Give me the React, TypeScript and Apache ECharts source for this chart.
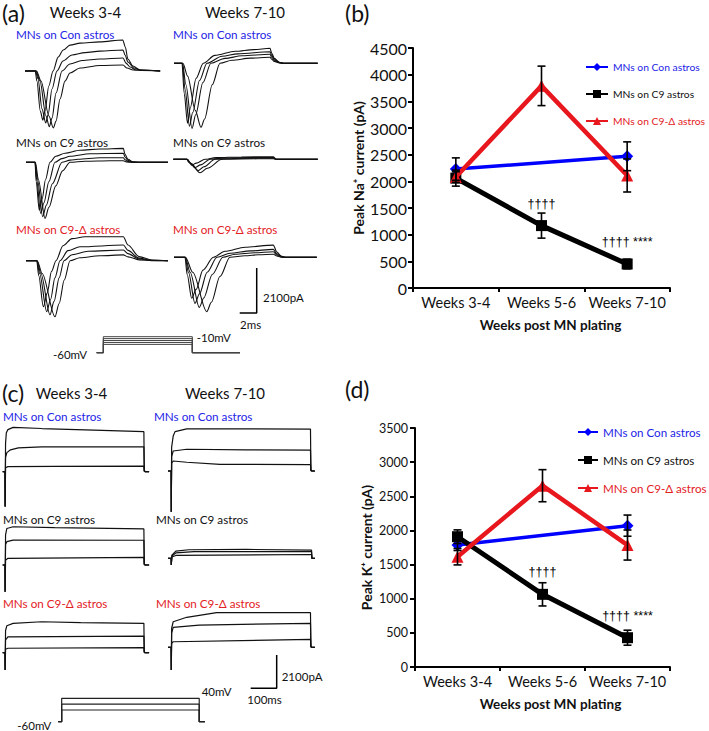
import React, { useEffect, useRef } from 'react';
import * as echarts from 'echarts';

const FONT = 'Lato, "Open Sans", "DejaVu Sans", sans-serif';
const BLUE = '#0000ff';
const BLUE_TXT = '#2424e6';
const RED = '#e8161d';
const RED_TXT = '#e3211f';
const INK = '#111111';

// ---------- panel (b)/(d) data ----------
const weekCategories = ['Weeks 3-4', 'Weeks 5-6', 'Weeks 7-10'];
const groupNames = ['MNs on Con astros', 'MNs on C9 astros', 'MNs on C9-Δ astros'];
const sigLabels = ['', '††††', '†††† ****'];

const naConMean = [2230, null, 2470];
const naConErr = [210, null, 270];
const naC9Mean = [2060, 1170, 450];
const naC9Err = [150, 235, 90];
const naDelMean = [2080, 3790, 2110];
const naDelErr = [100, 370, 310];

const kConMean = [1786, null, 2070];
const kConErr = [80, null, 155];
const kC9Mean = [1908, 1064, 429];
const kC9Err = [100, 170, 110];
const kDelMean = [1615, 2655, 1786];
const kDelErr = [120, 235, 220];

// ---------- panel (a) Na+ current traces: [time ms, current pA] ----------
const naCon34 = [
  [[0,0],[1.2,0],[1.4,-470],[1.8,-1870],[2.1,-2290],[2.35,-1870],[2.8,-700],[3.3,0],[3.9,650],[4.5,980],[5.3,1210],[6.5,1300],[8.8,1360],[11.5,1450],[11.8,1120],[12.1,560],[12.7,230],[13.5,50],[15.9,0]],
  [[0,0],[1.24,0],[1.53,-370],[2.0,-1770],[2.44,-2430],[2.71,-2050],[3.18,-840],[3.76,0],[4.47,470],[5.53,750],[7.06,860],[8.82,930],[11.53,980],[11.76,750],[12.12,420],[12.82,140],[13.76,20],[15.9,0]],
  [[0,0],[1.29,0],[1.76,-470],[2.47,-2100],[2.86,-2600],[3.18,-2200],[3.65,-1030],[4.35,0],[5.29,330],[6.71,490],[8.82,560],[11.53,610],[11.88,370],[12.35,190],[13.06,50],[15.9,0]],
  [[0,0],[1.35,0],[1.88,-470],[2.82,-2100],[3.33,-2660],[3.65,-2340],[4.12,-1310],[4.71,-470],[5.29,-90],[6.47,140],[8.82,260],[11.53,280],[12.0,140],[12.71,50],[15.9,0]],
];
const naCon710 = [
  [[0,0],[0.94,0],[1.2,-1400],[1.59,-2800],[1.9,-2100],[2.6,-700],[3.45,0],[4.8,370],[7.2,560],[9.4,640],[11.3,700],[11.5,470],[11.8,230],[12.4,50],[12.9,0],[16.9,0]],
  [[0,0],[0.97,0],[1.3,-1200],[1.82,-2940],[2.2,-2300],[3.0,-800],[3.88,0],[5.65,330],[7.5,440],[11.3,540],[11.5,370],[11.8,190],[12.4,40],[12.9,0],[16.9,0]],
  [[0,0],[1.0,0],[1.4,-1000],[2.12,-3040],[2.55,-2400],[3.4,-900],[4.35,0],[6.0,230],[8.0,350],[11.3,420],[11.5,280],[11.8,140],[12.4,30],[12.9,0],[16.9,0]],
  [[0,0],[1.05,0],[1.6,-600],[2.5,-2200],[3.18,-2990],[3.6,-2600],[4.5,-1000],[5.41,0],[6.82,140],[9.0,240],[11.3,280],[11.5,190],[11.8,90],[12.4,20],[12.9,0],[16.9,0]],
];
const naC934 = [
  [[0,0],[1.06,0],[1.2,-900],[1.56,-2240],[1.9,-1700],[2.3,-800],[2.82,0],[3.5,280],[4.59,420],[6.35,560],[8.7,620],[11.45,650],[11.65,370],[12.0,140],[12.6,20],[13.4,0],[16.7,0]],
  [[0,0],[1.06,0],[1.25,-800],[1.73,-2380],[2.1,-1900],[2.7,-900],[3.41,0],[4.2,170],[5.18,280],[7.53,400],[11.45,420],[11.65,250],[12.0,90],[12.6,10],[13.4,0],[16.7,0]],
  [[0,0],[1.08,0],[1.35,-800],[1.96,-2540],[2.4,-2000],[3.1,-1000],[4.24,0],[5.2,100],[6.12,140],[8.71,210],[11.45,215],[11.65,120],[12.0,40],[12.6,0],[16.7,0]],
  [[0,0],[1.1,0],[1.45,-800],[2.24,-2620],[2.7,-2100],[3.5,-1100],[4.3,-400],[5.18,0],[6.94,50],[9.88,75],[11.45,75],[11.8,20],[12.4,0],[16.7,0]],
];
const naC9710 = [
  [[0,0],[1.58,0],[1.8,-120],[2.16,-270],[2.7,-180],[3.73,0],[5.0,80],[8.0,110],[11.76,120],[12.1,0],[17,0]],
  [[0,0],[1.6,0],[1.9,-150],[2.55,-390],[3.2,-260],[4.32,0],[6.0,60],[9.0,80],[11.76,85],[12.1,0],[17,0]],
  [[0,0],[1.62,0],[2.0,-180],[2.94,-530],[3.6,-350],[4.9,0],[7.0,40],[11.76,55],[12.1,0],[17,0]],
  [[0,0],[1.65,0],[2.1,-200],[3.14,-630],[4.0,-420],[5.73,0],[8.0,20],[11.76,25],[12.1,0],[17,0]],
];
const naDel34 = [
  [[0,0],[1.26,0],[1.5,-700],[2.04,-2150],[2.5,-1500],[3.0,-500],[3.53,0],[4.35,700],[5.41,1030],[6.94,1120],[11.45,1120],[12.0,730],[13.3,190],[14.8,30],[16.7,0]],
  [[0,0],[1.28,0],[1.6,-600],[2.44,-2380],[2.9,-1800],[3.4,-800],[4.0,0],[4.94,470],[6.35,650],[11.45,730],[12.0,480],[13.3,120],[14.8,20],[16.7,0]],
  [[0,0],[1.3,0],[1.75,-600],[2.82,-2520],[3.3,-1900],[3.9,-800],[4.47,0],[5.41,280],[7.3,440],[11.45,500],[12.0,330],[13.3,80],[14.8,10],[16.7,0]],
  [[0,0],[1.32,0],[1.9,-600],[3.41,-2620],[3.9,-2000],[4.5,-900],[5.18,0],[6.35,140],[8.7,230],[11.45,270],[12.0,180],[13.3,40],[14.8,0],[16.7,0]],
];
const naDel710 = [
  [[0,0],[1.29,0],[1.55,-800],[2.08,-1910],[2.6,-1500],[3.4,-600],[4.63,0],[6.0,280],[8.35,470],[11.68,570],[12.1,250],[12.6,60],[13.1,0],[16.8,0]],
  [[0,0],[1.31,0],[1.7,-700],[2.47,-2150],[3.0,-1700],[3.9,-700],[5.06,0],[6.6,190],[9.0,300],[11.68,370],[12.1,160],[12.6,40],[13.1,0],[16.8,0]],
  [[0,0],[1.33,0],[1.9,-700],[2.98,-2340],[3.5,-1900],[4.5,-800],[5.76,0],[7.2,140],[9.5,210],[11.68,260],[12.1,110],[12.6,20],[13.1,0],[16.8,0]],
  [[0,0],[1.35,0],[2.2,-700],[3.85,-2540],[4.4,-2100],[5.4,-900],[6.59,0],[8.35,70],[10.0,120],[11.68,140],[12.1,60],[12.6,10],[13.1,0],[16.8,0]],
];
const naScaleBar = [[9.73, -500], [9.73, -2600], [7.73, -2600]]; // 2 ms x 2100 pA
const naStepLevels = [-34, -28, -22, -16, -10]; // mV
const naStepTimes = [0, 0.78, 11.25, 16.86]; // ms: start, on, off, end
const naHoldMv = -60;

// ---------- panel (c) K+ current traces: [time ms, current pA] ----------
const kCon34 = [
  [[0,0],[8.8,0],[9.3,-2200],[11,1800],[14,2450],[20,2650],[40,2790],[150,2720],[350,2620],[543,2520],[544.5,100],[548,0],[563,0]],
  [[0,0],[8.8,0],[9.3,-2200],[11,900],[16,1200],[30,1380],[60,1500],[150,1560],[543,1570],[544.5,60],[548,0],[563,0]],
  [[0,0],[8.8,0],[9.3,-2200],[11,250],[20,320],[200,340],[543,350],[544.5,20],[548,0],[563,0]],
];
const kCon710 = [
  [[0,0],[12,0],[12.5,-2560],[14,1500],[20,2200],[27,2480],[72,2650],[300,2650],[548,2640],[549.5,80],[553,0],[565,0]],
  [[0,0],[12,0],[12.5,-2560],[14,900],[20,1260],[72,1370],[300,1330],[548,1320],[549.5,40],[553,0],[565,0]],
  [[0,0],[12,0],[12.5,-2560],[14,500],[20,630],[72,550],[200,420],[548,400],[549.5,20],[553,0],[565,0]],
];
const kC934 = [
  [[0,0],[8.8,0],[9.3,-1680],[11,1900],[16,2300],[40,2410],[200,2350],[543,2270],[544.5,80],[548,0],[563,0]],
  [[0,0],[8.8,0],[9.3,-1680],[11,1300],[16,1470],[40,1570],[543,1560],[544.5,50],[548,0],[563,0]],
  [[0,0],[8.8,0],[9.3,-1680],[11,300],[20,420],[543,480],[544.5,20],[548,0],[563,0]],
];
const kC9710 = [
  [[0,0],[12,0],[12.5,-420],[15,200],[30,450],[80,540],[300,560],[552,520],[553.5,0],[565,0]],
  [[0,0],[12,0],[12.5,-420],[15,150],[30,340],[100,420],[552,420],[553.5,0],[565,0]],
  [[0,0],[12,0],[12.5,-420],[15,80],[30,180],[552,240],[553.5,0],[565,0]],
];
const kDel34 = [
  [[0,0],[8.8,0],[9.3,-1090],[11,1400],[16,1700],[40,1850],[150,1950],[300,1900],[543,1850],[544.5,60],[548,0],[563,0]],
  [[0,0],[8.8,0],[9.3,-1090],[11,800],[20,1000],[543,1050],[544.5,40],[548,0],[563,0]],
  [[0,0],[8.8,0],[9.3,-1090],[11,220],[20,280],[543,320],[544.5,10],[548,0],[563,0]],
];
const kDel710 = [
  [[0,0],[12,0],[12.5,-1430],[14,1200],[20,1610],[72,1890],[187,2180],[548,2180],[549.5,80],[553,0],[565,0]],
  [[0,0],[12,0],[12.5,-1430],[14,900],[20,1260],[120,1400],[548,1510],[549.5,40],[553,0],[565,0]],
  [[0,0],[12,0],[12.5,-1430],[14,250],[20,350],[548,500],[549.5,20],[553,0],[565,0]],
];
const kScaleBar = [[418, -480], [418, -2580], [318, -2580]]; // 100 ms x 2100 pA
const kStepLevels = [-10, 15, 40]; // mV
const kStepTimes = [0, 13, 542, 564];
const kHoldMv = -60;

function stepLine(level: number, times: number[], hold: number) {
  return [[times[0], hold], [times[1], hold], [times[1], level], [times[2], level], [times[2], hold], [times[3], hold]];
}

function buildOption() {
  const grids: any[] = [];
  const xAxes: any[] = [];
  const yAxes: any[] = [];
  const series: any[] = [];

  const addHidden = (left: number, top: number, width: number, height: number, xr: number[], yr: number[]) => {
    const i = grids.length;
    grids.push({ left, top, width, height, outerBoundsMode: 'none' });
    xAxes.push({ type: 'value', gridIndex: i, min: xr[0], max: xr[1], show: false });
    yAxes.push({ type: 'value', gridIndex: i, min: yr[0], max: yr[1], show: false });
    return i;
  };

  const addTrace = (gi: number, data: number[][], smooth: any, width = 1.1, color = INK) => {
    series.push({
      type: 'line', xAxisIndex: gi, yAxisIndex: gi, data, symbol: 'none', showSymbol: false,
      smooth, smoothMonotone: 'x', silent: true, lineStyle: { color, width }, z: 2,
      emphasis: { disabled: true },
    });
  };

  // ----- chart panels -----
  const addChart = (left: number, top: number, width: number, height: number, ymax: number,
    yName: string, tickSize: number, labelMargin: number, namePadLeft: number) => {
    const i = grids.length;
    grids.push({ left, top, width, height, outerBoundsMode: 'none' });
    xAxes.push({
      type: 'category', gridIndex: i, data: weekCategories, boundaryGap: true,
      axisLine: { lineStyle: { color: '#000', width: 2 } },
      axisTick: { show: true, interval: 0, length: 4, lineStyle: { color: '#000', width: 2 } },
      axisLabel: { color: INK, fontSize: 14.5, margin: 7, fontFamily: FONT, interval: 0 },
      name: 'Weeks post MN plating', nameLocation: 'middle', nameGap: 30,
      nameTextStyle: { fontWeight: 'bold', fontSize: 13.5, color: INK, fontFamily: FONT, padding: [0, 0, 0, namePadLeft] },
    });
    yAxes.push({
      type: 'value', gridIndex: i, min: 0, max: ymax, interval: 500,
      splitLine: { show: false },
      axisLine: { show: true, lineStyle: { color: '#000', width: 2 } },
      axisTick: { show: true, length: 5, lineStyle: { color: '#000', width: 2 } },
      axisLabel: { color: INK, fontSize: tickSize, margin: labelMargin, fontFamily: FONT, formatter: (v: number) => String(v) },
      name: yName, nameLocation: 'middle', nameGap: 42,
      nameTextStyle: { fontWeight: 'bold', fontSize: 14, color: INK, fontFamily: FONT },
    });
    return i;
  };

  const addGroupSeries = (gi: number, con: any[], c9: any[], del: any[]) => {
    series.push({
      name: groupNames[0], type: 'line', xAxisIndex: gi, yAxisIndex: gi, data: con, connectNulls: true,
      symbol: 'diamond', symbolSize: 12, itemStyle: { color: BLUE }, lineStyle: { color: BLUE, width: 3.5 }, z: 3,
      emphasis: { disabled: true },
    });
    series.push({
      name: groupNames[1], type: 'line', xAxisIndex: gi, yAxisIndex: gi,
      data: c9.map((v, k) => sigLabels[k]
        ? { value: v, label: { show: true, formatter: sigLabels[k], position: 'top', distance: 10, fontSize: 12.5, color: '#000', fontFamily: '"Liberation Sans", "DejaVu Sans", sans-serif' } }
        : v),
      symbol: 'rect', symbolSize: 11, itemStyle: { color: '#000' }, lineStyle: { color: '#000', width: 5 }, z: 4,
      emphasis: { disabled: true },
    });
    series.push({
      name: groupNames[2], type: 'line', xAxisIndex: gi, yAxisIndex: gi, data: del,
      symbol: 'triangle', symbolSize: 12, itemStyle: { color: RED }, lineStyle: { color: RED, width: 4.5 }, z: 5,
      emphasis: { disabled: true },
    });
  };

  const addErr = (gi: number, means: any[], errs: any[]) => {
    const data = means.map((m, k) => (m == null ? null : [k, m - errs[k], m + errs[k]])).filter(Boolean);
    series.push({
      type: 'custom', xAxisIndex: gi, yAxisIndex: gi, data, z: 10, silent: true,
      encode: { x: 0, y: [1, 2] },
      renderItem: (params: any, api: any) => {
        const x = api.value(0);
        const lo = api.coord([x, api.value(1)]);
        const hi = api.coord([x, api.value(2)]);
        const hw = 4;
        const style = { stroke: '#000', lineWidth: 1.6 };
        return {
          type: 'group',
          children: [
            { type: 'line', shape: { x1: lo[0], y1: lo[1], x2: hi[0], y2: hi[1] }, style },
            { type: 'line', shape: { x1: lo[0] - hw, y1: lo[1], x2: lo[0] + hw, y2: lo[1] }, style },
            { type: 'line', shape: { x1: hi[0] - hw, y1: hi[1], x2: hi[0] + hw, y2: hi[1] }, style },
          ],
        };
      },
    });
  };

  const gb = addChart(413, 48, 257, 240, 4500, 'Peak Na⁺ current (pA)', 16, 6, 18);
  addGroupSeries(gb, naConMean, naC9Mean, naDelMean);
  addErr(gb, naConMean, naConErr);
  addErr(gb, naC9Mean, naC9Err);
  addErr(gb, naDelMean, naDelErr);

  const gd = addChart(415, 428, 255, 239, 3500, 'Peak K⁺ current (pA)', 12.5, 7, 16);
  addGroupSeries(gd, kConMean, kC9Mean, kDelMean);
  addErr(gd, kConMean, kConErr);
  addErr(gd, kC9Mean, kC9Err);
  addErr(gd, kDelMean, kDelErr);

  // ----- Na traces (panel a) -----
  const NA_PX_MS = 8.5, NA_PA_PX = 46.7, NA_X = [0, 17], NA_Y = [-3200, 1800];
  const naPanels = [
    { traces: naCon34, left: 25, base: 71 },
    { traces: naCon710, left: 174, base: 63.3 },
    { traces: naC934, left: 26, base: 162.3 },
    { traces: naC9710, left: 173.3, base: 159.3 },
    { traces: naDel34, left: 26, base: 260.7 },
    { traces: naDel710, left: 174, base: 257.3 },
  ];
  let lastNa = 0;
  naPanels.forEach((p) => {
    const gi = addHidden(p.left, p.base - NA_Y[1] / NA_PA_PX, (NA_X[1] - NA_X[0]) * NA_PX_MS,
      (NA_Y[1] - NA_Y[0]) / NA_PA_PX, NA_X, NA_Y);
    p.traces.forEach((t) => addTrace(gi, t, 0.3));
    lastNa = gi;
  });
  addTrace(lastNa, naScaleBar, false, 1.5, '#000');

  // Na protocol
  const NP_MV_PX = 0.32, NP_Y = [-70, 0];
  const gnp = addHidden(96.7, 352.7 - (NP_Y[1] - naHoldMv) * NP_MV_PX, (NA_X[1] - NA_X[0]) * NA_PX_MS,
    (NP_Y[1] - NP_Y[0]) * NP_MV_PX, NA_X, NP_Y);
  naStepLevels.forEach((v) => addTrace(gnp, stepLine(v, naStepTimes, naHoldMv), false, 1, '#444'));

  // ----- K traces (panel c) -----
  const K_PX_MS = 0.26, K_PA_PX = 63, K_X = [0, 580], K_Y = [-2800, 3000];
  const kPanels = [
    { traces: kCon34, left: 2.7, base: 471.7 },
    { traces: kCon710, left: 168, base: 471 },
    { traces: kC934, left: 2.7, base: 565 },
    { traces: kC9710, left: 168, base: 558.3 },
    { traces: kDel34, left: 2.7, base: 652.7 },
    { traces: kDel710, left: 168, base: 647.3 },
  ];
  let lastK = 0;
  kPanels.forEach((p) => {
    const gi = addHidden(p.left, p.base - K_Y[1] / K_PA_PX, (K_X[1] - K_X[0]) * K_PX_MS,
      (K_Y[1] - K_Y[0]) / K_PA_PX, K_X, K_Y);
    p.traces.forEach((t) => addTrace(gi, t, false, 1.2));
    lastK = gi;
  });
  addTrace(lastK, kScaleBar, false, 1.5, '#000');

  // K protocol
  const KP_MV_PX = 0.234, KP_Y = [-70, 50];
  const gkp = addHidden(58.3, 721.7 - (KP_Y[1] - kHoldMv) * KP_MV_PX, (K_X[1] - K_X[0]) * K_PX_MS,
    (KP_Y[1] - KP_Y[0]) * KP_MV_PX, K_X, KP_Y);
  kStepLevels.forEach((v) => addTrace(gkp, stepLine(v, kStepTimes, kHoldMv), false, 1.2, '#222'));

  // ----- texts -----
  const txt = (x: number, y: number, text: string, size: number, color = INK, align = 'left', weight = 'normal') => ({
    type: 'text', x, y, silent: true,
    style: { text, fontSize: size, fontFamily: FONT, fill: color, align, verticalAlign: 'middle', fontWeight: weight },
  });
  const graphic = [
    txt(2, 13, '(a)', 23),
    txt(85.5, 12, 'Weeks 3-4', 15, INK, 'center'),
    txt(245, 12, 'Weeks 7-10', 15, INK, 'center'),
    txt(16, 34, groupNames[0], 11.7, BLUE_TXT),
    txt(173, 34, groupNames[0], 11.7, BLUE_TXT),
    txt(16, 142, groupNames[1], 11.7),
    txt(173, 142, groupNames[1], 11.7),
    txt(16, 229, groupNames[2], 11.7, RED_TXT),
    txt(173, 229, groupNames[2], 11.7, RED_TXT),
    txt(263, 297, '2100pA', 11.5),
    txt(240, 324, '2ms', 11.5),
    txt(53, 354.5, '-60mV', 11.5),
    txt(196.7, 337, '-10mV', 11.5),

    txt(345, 13, '(b)', 23),
    txt(345, 389, '(d)', 23),

    txt(2, 393, '(c)', 23),
    txt(71.5, 393, 'Weeks 3-4', 15, INK, 'center'),
    txt(225, 393, 'Weeks 7-10', 15, INK, 'center'),
    txt(3, 416, groupNames[0], 11.7, BLUE_TXT),
    txt(154, 416, groupNames[0], 11.7, BLUE_TXT),
    txt(3, 519.3, groupNames[1], 11.7),
    txt(156, 519.3, groupNames[1], 11.7),
    txt(3, 603.3, groupNames[2], 11.7, RED_TXT),
    txt(156, 603.3, groupNames[2], 11.7, RED_TXT),
    txt(281.7, 676, '2100pA', 11.5),
    txt(247.3, 699.3, '100ms', 11.5),
    txt(17.3, 725, '-60mV', 11.5),
    txt(201.7, 691.7, '40mV', 11.5),
  ];

  const legendColors = [BLUE_TXT, INK, RED_TXT];
  const legendData = (size: number) => groupNames.map((n, k) => ({ name: n, textStyle: { color: legendColors[k], fontSize: size, fontFamily: FONT } }));

  return {
    animation: false,
    backgroundColor: '#ffffff',
    textStyle: { fontFamily: FONT },
    grid: grids,
    xAxis: xAxes,
    yAxis: yAxes,
    legend: [
      { orient: 'vertical', left: 585, top: 62, padding: 0, itemWidth: 22, itemHeight: 10, itemGap: 17, selectedMode: false,
        textStyle: { fontSize: 10.3, fontFamily: FONT }, data: legendData(10.3) },
      { orient: 'vertical', left: 577, top: 426, padding: 0, itemWidth: 20, itemHeight: 10, itemGap: 16, selectedMode: false,
        textStyle: { fontSize: 11.6, fontFamily: FONT }, data: legendData(11.6) },
    ],
    graphic,
    series,
  };
}

export default function App() {
  const ref = useRef<HTMLDivElement>(null);
  useEffect(() => {
    if (!ref.current) return;
    const chart = echarts.init(ref.current, null, { renderer: 'svg' });
    chart.setOption(buildOption() as any);
    return () => chart.dispose();
  }, []);
  return (
    <div
      ref={ref}
      style={{ position: 'fixed', left: 0, top: 0, width: 709, height: 731, background: '#fff' }}
    />
  );
}
